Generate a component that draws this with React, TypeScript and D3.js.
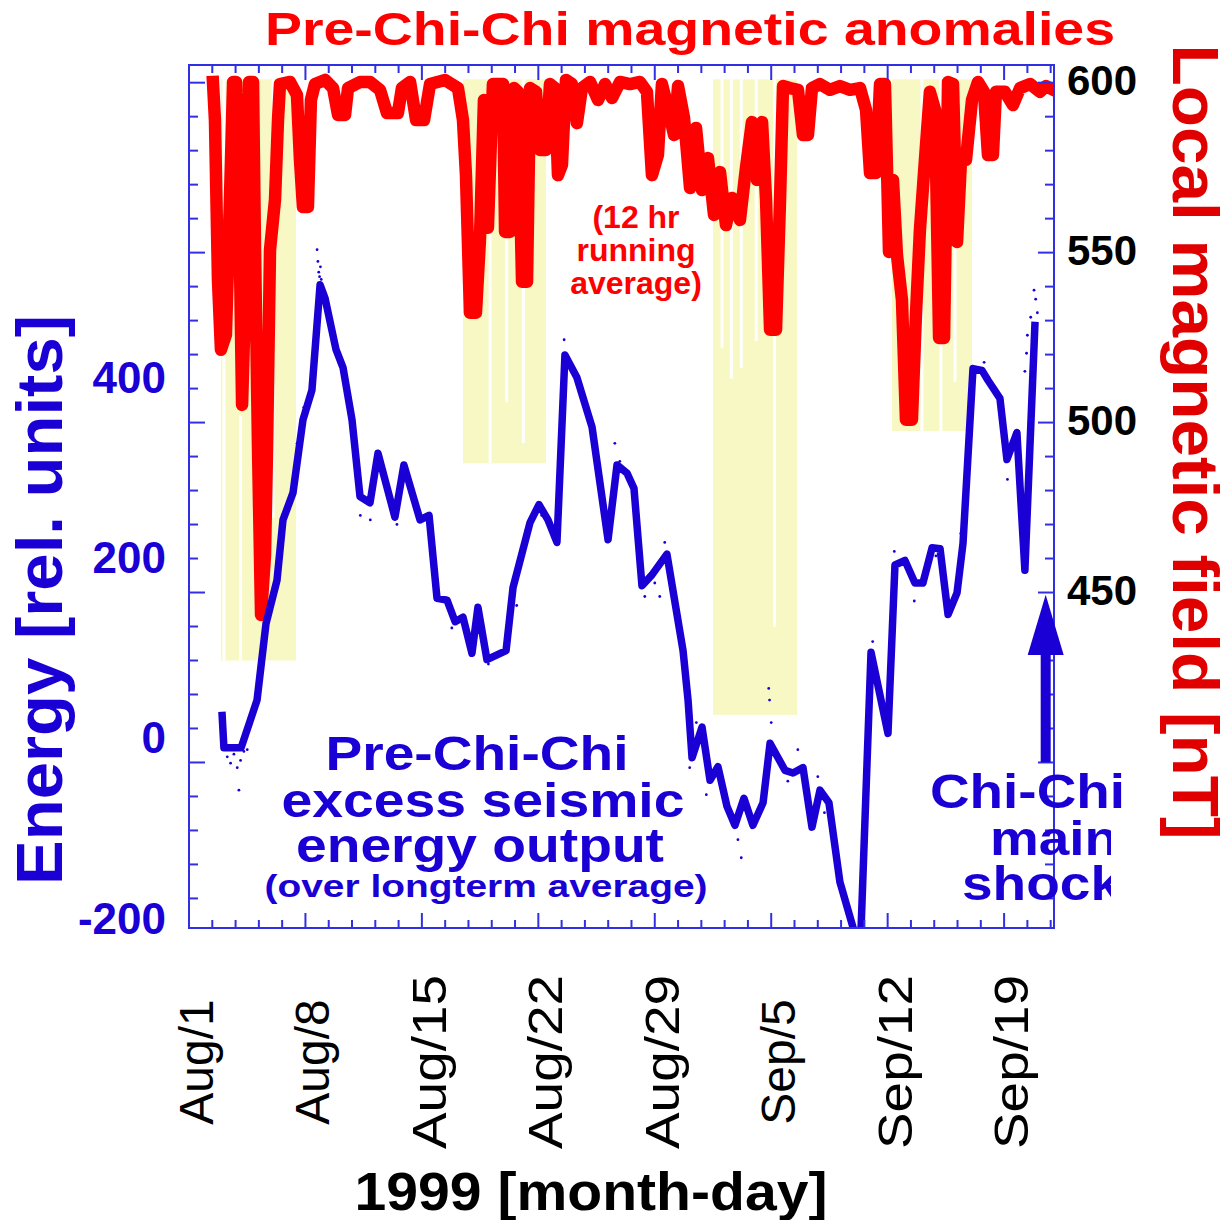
import React, { useRef, useEffect } from 'react';
import * as d3 from 'd3';

// days after Aug 1 1999, excess seismic energy (rel. units)
const energy_points = [
    [1.98, 32], [2.1, -8], [3.13, -8], [4.09, 45], [4.63, 130], [5.29, 178], [5.65, 245], [6.25, 275],
    [6.85, 356], [7.39, 389], [7.88, 506], [8.18, 491], [8.84, 434], [9.26, 414], [9.8, 356], [10.28, 271],
    [10.88, 264], [11.36, 319], [12.38, 248], [12.92, 306], [13.89, 245], [14.43, 250], [14.91, 158],
    [15.51, 156], [16.0, 132], [16.47, 137], [17.01, 97], [17.37, 148], [17.91, 90], [19.06, 100],
    [19.48, 170], [20.5, 242], [21.04, 262], [21.58, 245], [22.12, 220], [22.6, 428], [23.32, 403],
    [24.23, 348], [25.19, 223], [25.73, 306], [26.33, 297], [26.75, 280], [27.23, 172], [27.83, 184],
    [28.73, 207], [29.7, 100], [30.0, 45], [30.24, -19], [30.84, 15], [31.32, -44], [31.8, -29],
    [32.34, -73], [32.82, -94], [33.36, -64], [33.9, -94], [34.51, -69], [34.93, -3], [35.83, -33],
    [36.31, -36], [36.91, -30], [37.45, -96], [37.93, -55], [38.47, -69], [39.13, -157], [40.35, -235],
    [41.0, 98], [42.02, 8], [42.44, 195], [43.04, 200], [43.64, 175], [44.12, 175], [44.67, 214],
    [45.15, 213], [45.63, 140], [46.17, 164], [46.53, 219], [47.13, 413], [47.67, 411], [48.03, 400],
    [48.75, 380], [49.17, 312], [49.77, 342], [50.25, 189], [50.86, 465],
];

// scattered raw energy samples around the curve
const energy_dots = [
    [7.7, 545], [7.75, 532], [7.8, 520], [7.85, 515], [7.9, 526], [7.95, 512], [8.0, 500], [7.6, 470],
    [7.5, 430], [2.3, -18], [2.5, -25], [2.7, -15], [2.9, -30], [3.1, -22], [3.3, -12], [3.5, -10],
    [3.0, -55], [6.5, 330], [6.9, 370], [10.3, 250], [10.9, 245], [17.2, 110], [17.4, 120], [18.0, 85],
    [19.7, 150], [19.9, 200], [20.3, 230], [22.55, 445], [22.7, 420], [23.0, 410], [25.6, 330],
    [25.9, 310], [26.2, 300], [28.0, 175], [28.3, 160], [28.6, 220], [30.1, -30], [30.5, 20],
    [31.1, -60], [33.0, -110], [33.2, -130], [34.85, 58], [34.9, 45], [35.0, 20], [36.6, -10],
    [37.8, -40], [39.3, -170], [39.5, -185], [41.1, 110], [42.4, 210], [43.3, 185], [43.6, 155],
    [44.4, 200], [46.4, 230], [47.0, 395], [47.8, 420], [48.4, 390], [49.2, 290], [49.5, 330],
    [50.25, 410], [50.35, 430], [50.4, 450], [50.6, 470], [50.8, 500], [50.9, 490], [51.0, 475],
    [8.3, 480], [9.0, 420], [12.5, 240], [14.6, 240], [15.8, 125], [21.2, 250], [24.4, 335],
    [27.4, 160], [29.9, 60], [32.5, -85], [36.0, -45], [38.2, -80], [44.9, 205], [49.9, 320],
];

// 12 hr running average of local magnetic field (nT)
const field_points = [
    [1.44, 600.2], [1.56, 589.0], [1.74, 542.0], [1.92, 521.4], [2.22, 525.8], [2.46, 565.5], [2.65, 600.2],
    [2.83, 600.2], [3.01, 565.5], [3.19, 505.2], [3.37, 536.1], [3.61, 600.2], [3.85, 600.2], [3.97, 550.8],
    [4.15, 492.0], [4.33, 443.4], [4.57, 461.1], [4.69, 492.0], [4.87, 550.8], [5.17, 565.5], [5.35, 589.0],
    [5.47, 599.6], [6.07, 600.2], [6.49, 596.4], [6.67, 577.3], [6.85, 563.4], [7.15, 563.4], [7.33, 594.9],
    [7.57, 599.6], [8.18, 600.8], [8.66, 598.4], [8.96, 590.5], [9.38, 590.5], [9.56, 598.4], [10.28, 600.2],
    [10.88, 600.2], [11.48, 597.9], [11.9, 591.1], [12.56, 591.1], [12.8, 598.4], [13.29, 600.2], [13.65, 589.0],
    [14.13, 589.0], [14.49, 599.6], [15.39, 600.8], [16.17, 598.4], [16.47, 589.0], [16.65, 572.8], [16.89, 532.3],
    [17.25, 532.3], [17.49, 553.7], [17.73, 594.9], [17.97, 557.3], [18.27, 599.6], [18.88, 599.6], [19.0, 556.1],
    [19.3, 556.1], [19.54, 598.4], [19.78, 597.3], [20.02, 541.4], [20.32, 541.4], [20.5, 598.4], [20.86, 597.3],
    [21.1, 580.2], [21.46, 580.2], [21.7, 599.6], [22.0, 598.4], [22.18, 572.8], [22.42, 575.8], [22.66, 600.8],
    [23.02, 599.6], [23.32, 588.1], [23.62, 598.4], [24.11, 600.2], [24.59, 594.9], [25.01, 599.6], [25.43, 595.5],
    [25.91, 600.2], [26.51, 599.6], [27.11, 600.2], [27.53, 597.3], [27.83, 572.8], [28.19, 578.7], [28.43, 599.6],
    [28.79, 592.6], [29.16, 584.6], [29.4, 599.0], [29.76, 589.6], [30.12, 569.0], [30.48, 586.7], [30.84, 568.4],
    [31.2, 577.8], [31.56, 561.1], [31.92, 573.7], [32.28, 558.1], [32.64, 566.1], [33.12, 559.6], [33.48, 574.9],
    [33.84, 588.4], [34.14, 571.4], [34.45, 588.4], [34.69, 565.5], [34.93, 527.3], [35.29, 527.3], [35.53, 565.5],
    [35.71, 599.0], [36.13, 598.4], [36.61, 597.9], [36.91, 584.6], [37.21, 584.6], [37.45, 598.4], [37.93, 599.6],
    [38.53, 597.9], [39.13, 599.0], [39.74, 597.9], [40.34, 598.4], [40.7, 592.0], [40.94, 573.4], [41.3, 573.4],
    [41.54, 599.6], [41.84, 599.6], [42.08, 550.2], [42.32, 571.4], [42.56, 549.3], [42.86, 536.1], [43.1, 500.8],
    [43.46, 500.8], [43.7, 531.7], [43.94, 556.7], [44.24, 577.3], [44.54, 597.3], [44.85, 592.0], [45.09, 524.9],
    [45.39, 524.9], [45.63, 600.2], [45.93, 599.6], [46.17, 553.1], [46.41, 577.3], [46.71, 577.3], [47.07, 594.9],
    [47.43, 600.2], [47.79, 597.3], [48.03, 578.7], [48.33, 578.7], [48.51, 597.3], [49.05, 597.3], [49.53, 593.4],
    [49.96, 598.4], [50.56, 599.6], [51.16, 597.3], [51.52, 599.0], [51.76, 598.4],
];

// anomaly windows: start day, end day, lowest field (nT)
const anomaly_bands = [
    [1.92, 6.43, 430],
    [16.47, 21.46, 488],
    [31.5, 36.55, 414],
    [42.26, 47.07, 497.5],
];
// white gaps inside the windows: day, top nT, bottom nT
const anomaly_gaps = [
    [2.1, 601, 430], [3.1, 502, 430], [5.05, 601, 472],
    [18.1, 601, 488], [19.1, 601, 506], [20.1, 601, 494],
    [32.04, 601, 522], [32.6, 601, 513], [33.2, 601, 516], [34.1, 601, 524], [35.2, 601, 440],
    [44.06, 601, 497.5], [45.2, 601, 497.5], [46.05, 601, 512],
];

const day_ticks = [0, 7, 14, 21, 28, 35, 42, 49];
const day_labels = ['Aug/1', 'Aug/8', 'Aug/15', 'Aug/22', 'Aug/29', 'Sep/5', 'Sep/12', 'Sep/19'];
const energy_ticks = [400, 200, 0, -200];
const field_ticks = [600, 550, 500, 450];
const quake_day = 51.5;
const arrow_energy = [-24, 95, 162]; // shaft bottom, head base, tip

const BLUE = '#1a00d4';
const FRAME = '#3030e2';
const RED = '#ff0000';
const FONT = '"Liberation Sans", Arial, Helvetica, sans-serif';

export default function App() {
    const svg_ref = useRef(null);

    useEffect(() => {
        const svg = d3.select(svg_ref.current);
        svg.selectAll('*').remove();

        const left = 189, right = 1054, top = 65, bottom = 928;
        const x = d3.scaleLinear([0, 52], [left, right]);
        const y_energy = d3.scaleLinear([-208, 750], [bottom, top]);
        const y_field = d3.scaleLinear([351.3, 605.2], [bottom, top]);

        svg.append('clipPath')
            .attr('id', 'plot-clip')
            .append('rect')
            .attr('x', left)
            .attr('y', top)
            .attr('width', right - left)
            .attr('height', bottom - top);

        svg.append('clipPath')
            .attr('id', 'label-clip')
            .append('rect')
            .attr('x', 0)
            .attr('y', 0)
            .attr('width', 1111)
            .attr('height', 1220);

        const plot = svg.append('g').attr('clip-path', 'url(#plot-clip)');

        // anomaly windows
        plot.append('g')
            .selectAll('rect')
            .data(anomaly_bands)
            .join('rect')
            .attr('x', (d) => x(d[0]))
            .attr('width', (d) => x(d[1]) - x(d[0]))
            .attr('y', y_field(601))
            .attr('height', (d) => y_field(d[2]) - y_field(601))
            .attr('fill', '#f8f8c4');

        plot.append('g')
            .selectAll('line')
            .data(anomaly_gaps)
            .join('line')
            .attr('x1', (d) => x(d[0]))
            .attr('x2', (d) => x(d[0]))
            .attr('y1', (d) => y_field(d[1]))
            .attr('y2', (d) => y_field(d[2]))
            .attr('stroke', '#fff')
            .attr('stroke-width', 3);

        // magnetic field trace
        const field_line = d3
            .line()
            .x((d) => x(d[0]))
            .y((d) => y_field(d[1]));

        plot.append('path')
            .datum(field_points)
            .attr('fill', 'none')
            .attr('stroke', RED)
            .attr('stroke-width', 12.5)
            .attr('stroke-linejoin', 'round')
            .attr('stroke-linecap', 'square')
            .attr('d', field_line);

        // energy curve
        const energy_line = d3
            .line()
            .x((d) => x(d[0]))
            .y((d) => y_energy(d[1]));

        plot.append('path')
            .datum(energy_points)
            .attr('fill', 'none')
            .attr('stroke', BLUE)
            .attr('stroke-width', 7.5)
            .attr('stroke-linejoin', 'round')
            .attr('d', energy_line);

        plot.append('g')
            .selectAll('circle')
            .data(energy_dots)
            .join('circle')
            .attr('cx', (d) => x(d[0]))
            .attr('cy', (d) => y_energy(d[1]))
            .attr('r', 1.4)
            .attr('fill', BLUE);

        // frame and ticks
        const minor_days = d3.range(0, 52, 1.4);
        const field_minor = d3.range(360, 601, 10);
        const tick_group = svg.append('g').attr('stroke', FRAME).attr('stroke-width', 2);

        minor_days.forEach((d, i) => {
            const len = i % 5 === 0 ? 15 : 8;
            tick_group.append('line').attr('x1', x(d)).attr('x2', x(d)).attr('y1', bottom).attr('y2', bottom - len);
            tick_group.append('line').attr('x1', x(d)).attr('x2', x(d)).attr('y1', top).attr('y2', top + len);
        });
        field_minor.forEach((v) => {
            const len = v % 50 === 0 ? 16 : 9;
            tick_group.append('line').attr('x1', left).attr('x2', left + len).attr('y1', y_field(v)).attr('y2', y_field(v));
            tick_group.append('line').attr('x1', right).attr('x2', right - len).attr('y1', y_field(v)).attr('y2', y_field(v));
        });

        svg.append('rect')
            .attr('x', left)
            .attr('y', top)
            .attr('width', right - left)
            .attr('height', bottom - top)
            .attr('fill', 'none')
            .attr('stroke', FRAME)
            .attr('stroke-width', 2);

        // main shock arrow
        const ax = x(quake_day);
        const [a0, a1, a2] = arrow_energy.map(y_energy);
        svg.append('rect')
            .attr('x', ax - 5)
            .attr('y', a1 - 1)
            .attr('width', 10)
            .attr('height', a0 - a1 + 1)
            .attr('fill', BLUE);
        svg.append('path')
            .attr('d', `M${ax},${a2}L${ax + 18},${a1}L${ax - 18},${a1}Z`)
            .attr('fill', BLUE);

        const text = (g, str, opts) => {
            const t = g
                .append('text')
                .text(str)
                .attr('font-family', FONT)
                .attr('font-weight', opts.weight || 'bold')
                .attr('font-size', opts.size)
                .attr('fill', opts.fill)
                .attr('text-anchor', opts.anchor || 'middle')
                .attr('x', opts.x || 0)
                .attr('y', opts.y || 0);
            if (opts.length) t.attr('textLength', opts.length).attr('lengthAdjust', 'spacingAndGlyphs');
            if (opts.transform) t.attr('transform', opts.transform);
            if (opts.dy) t.attr('dy', opts.dy);
            return t;
        };

        // axis tick labels
        energy_ticks.forEach((v) =>
            text(svg, String(v), { x: 166, y: y_energy(v) - 3, dy: '0.36em', size: 44, fill: BLUE, anchor: 'end' })
        );
        field_ticks.forEach((v) =>
            text(svg, String(v), { x: 1067, y: y_field(v) - 3, dy: '0.36em', size: 42, fill: '#000', anchor: 'start' })
        );
        day_ticks.forEach((d, i) =>
            text(svg, day_labels[i], {
                size: 48,
                weight: 'normal',
                fill: '#000',
                length: day_labels[i].length > 5 ? 174 : null,
                transform: `translate(${x(d) + 24},1062) rotate(-90)`,
            })
        );

        // titles
        text(svg, 'Pre-Chi-Chi magnetic anomalies', { x: 265, y: 45, size: 46, fill: RED, anchor: 'start', length: 850 });
        text(svg, 'Energy [rel. units]', { size: 64, fill: BLUE, length: 570, transform: 'translate(62,600) rotate(-90)' });
        text(svg, 'Local magnetic field [nT]', { size: 64, fill: '#e00000', length: 795, transform: 'translate(1173,442) rotate(90)' });
        text(svg, '1999 [month-day]', { x: 591, y: 1210, size: 54, fill: '#000', length: 473 });

        // annotations
        text(svg, '(12 hr', { x: 636, y: 228, size: 32, fill: RED });
        text(svg, 'running', { x: 636, y: 261, size: 32, fill: RED });
        text(svg, 'average)', { x: 636, y: 294, size: 32, fill: RED });

        text(svg, 'Pre-Chi-Chi', { x: 477, y: 770, size: 49, fill: BLUE, length: 303 });
        text(svg, 'excess seismic', { x: 483, y: 817, size: 49, fill: BLUE, length: 403 });
        text(svg, 'energy output', { x: 480, y: 862, size: 49, fill: BLUE, length: 368 });
        text(svg, '(over longterm average)', { x: 486, y: 897, size: 31, fill: BLUE, length: 443 });

        text(svg, 'Chi-Chi', { x: 1125, y: 808, size: 49, fill: BLUE, anchor: 'end', length: 195 });
        const clipped = svg.append('g').attr('clip-path', 'url(#label-clip)');
        text(clipped, 'main', { x: 1118, y: 855, size: 49, fill: BLUE, anchor: 'end', length: 128 });
        text(clipped, 'shock', { x: 1121, y: 900, size: 49, fill: BLUE, anchor: 'end', length: 159 });
    }, []);

    return (
        <svg
            ref={svg_ref}
            width={1224}
            height={1220}
            style={{ position: 'absolute', left: 0, top: 0, background: '#fff' }}
        />
    );
}
